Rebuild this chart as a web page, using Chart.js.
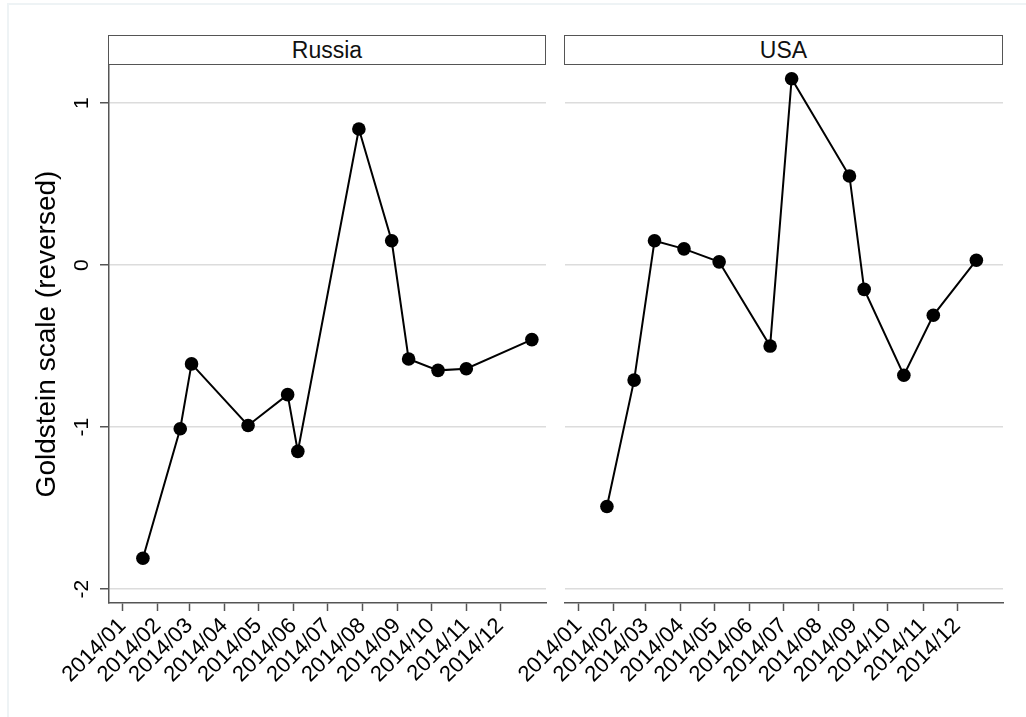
<!DOCTYPE html>
<html>
<head>
<meta charset="utf-8">
<title>Goldstein scale (reversed), Russia and USA, 2014</title>
<script src="https://cdn.jsdelivr.net/npm/chart.js@4.4.1/dist/chart.umd.min.js"></script>
<style>
  html, body { margin: 0; padding: 0; background: #ffffff; }
  body { width: 1026px; height: 717px; position: relative; overflow: hidden;
         font-family: "Liberation Sans", Arial, sans-serif; }
  .frame { position: absolute; left: 7px; top: 3px; right: 0; bottom: 0;
           border-top: 2px solid #eef3f5; border-left: 2px solid #eef3f5; }
  .strip { position: absolute; top: 35px; height: 28px; box-sizing: content-box;
           border: 1.5px solid #555555; background: #ffffff;
           text-align: center; line-height: 29px; font-size: 23px; color: #111; }
  canvas { position: absolute; top: 0; }
</style>
</head>
<body>
<div class="frame"></div>
<canvas id="left" width="556" height="717" style="left:0px;"></canvas>
<canvas id="right" width="546" height="717" style="left:480px;"></canvas>
<div class="strip" style="left:108px; width:436px;">Russia</div>
<div class="strip" style="left:564px; width:437px;">USA</div>
<script>
// Month tick labels along the shared date axis
const monthLabels = ["2014/01", "2014/02", "2014/03", "2014/04", "2014/05", "2014/06",
                     "2014/07", "2014/08", "2014/09", "2014/10", "2014/11", "2014/12"];
const monthStarts = ["2014-01-01", "2014-02-01", "2014-03-01", "2014-04-01", "2014-05-01", "2014-06-01",
                     "2014-07-01", "2014-08-01", "2014-09-01", "2014-10-01", "2014-11-01", "2014-12-01"];

// Russia: event dates and reversed Goldstein scores
const russiaDates  = ["2014-01-19", "2014-02-21", "2014-03-03", "2014-04-22", "2014-05-27", "2014-06-05",
                      "2014-07-29", "2014-08-27", "2014-09-11", "2014-10-07", "2014-11-01", "2014-12-29"];
const russiaValues = [-1.81, -1.01, -0.61, -0.99, -0.80, -1.15, 0.84, 0.15, -0.58, -0.65, -0.64, -0.46];

// USA: event dates and reversed Goldstein scores
const usaDates  = ["2014-01-26", "2014-02-19", "2014-03-09", "2014-04-04", "2014-05-05", "2014-06-19",
                   "2014-07-08", "2014-08-28", "2014-09-10", "2014-10-15", "2014-11-10", "2014-12-18"];
const usaValues = [-1.49, -0.71, 0.15, 0.10, 0.02, -0.50, 1.15, 0.55, -0.15, -0.68, -0.31, 0.03];

const yTicks = [-2, -1, 0, 1];

// days since 1 Jan 2014
function dayOf(s) {
  const p = s.split("-").map(Number);
  return (Date.UTC(p[0], p[1] - 1, p[2]) - Date.UTC(2014, 0, 1)) / 86400000;
}
const monthOffsets = monthStarts.map(dayOf);

const FONT = "'Liberation Sans', Arial, sans-serif";
const AXIS = "#555555";
const GRID = "#dcdcdc";

function series(dates, values) {
  return dates.map((d, i) => ({ x: dayOf(d), y: values[i] }));
}

function makeChart(id, dates, values, withYAxis) {
  const padLeft = withYAxis ? 30 : 85;
  const padRight = withYAxis ? 10 : 23;
  return new Chart(document.getElementById(id), {
    type: "line",
    data: {
      datasets: [{
        data: series(dates, values),
        borderColor: "#000000",
        borderWidth: 2,
        backgroundColor: "#000000",
        pointBackgroundColor: "#000000",
        pointBorderWidth: 0,
        pointRadius: 6.8,
        tension: 0,
        fill: false
      }]
    },
    options: {
      responsive: false,
      animation: false,
      events: [],
      layout: { padding: { left: padLeft, right: padRight, top: 65, bottom: 0 } },
      plugins: { legend: { display: false }, tooltip: { enabled: false } },
      scales: {
        x: {
          type: "linear",
          min: -12,
          max: 374.5,
          afterBuildTicks: s => { s.ticks = monthOffsets.map(v => ({ value: v })); },
          afterFit: s => { s.height = 114; },
          grid: { drawOnChartArea: false, drawTicks: true, tickLength: 8, tickColor: AXIS, tickWidth: 1.5 },
          border: { display: true, color: AXIS, width: 1.5 },
          ticks: {
            autoSkip: false,
            minRotation: 45,
            maxRotation: 45,
            padding: 2,
            color: "#000000",
            font: { family: FONT, size: 22 },
            callback: (v, i) => monthLabels[i]
          }
        },
        y: {
          type: "linear",
          min: -2.086,
          max: 1.235,
          afterBuildTicks: s => { s.ticks = yTicks.map(v => ({ value: v })); },
          afterFit: s => { s.width = withYAxis ? 109 - padLeft : 0; },
          grid: { display: true, color: GRID, lineWidth: 1.5,
                  drawTicks: withYAxis, tickLength: 9, tickColor: AXIS, tickWidth: 1.5 },
          border: { display: withYAxis, color: AXIS, width: 1.5 },
          title: {
            display: withYAxis,
            text: "Goldstein scale (reversed)",
            color: "#000000",
            font: { family: FONT, size: 28 },
            padding: { top: 0, bottom: 0 }
          },
          ticks: {
            display: withYAxis,
            minRotation: 90,
            maxRotation: 90,
            crossAlign: "center",
            padding: 8,
            color: "#000000",
            font: { family: FONT, size: 21 },
            callback: v => String(v).replace("\u2212", "-")
          }
        }
      }
    }
  });
}

makeChart("left", russiaDates, russiaValues, true);
makeChart("right", usaDates, usaValues, false);
</script>
</body>
</html>
